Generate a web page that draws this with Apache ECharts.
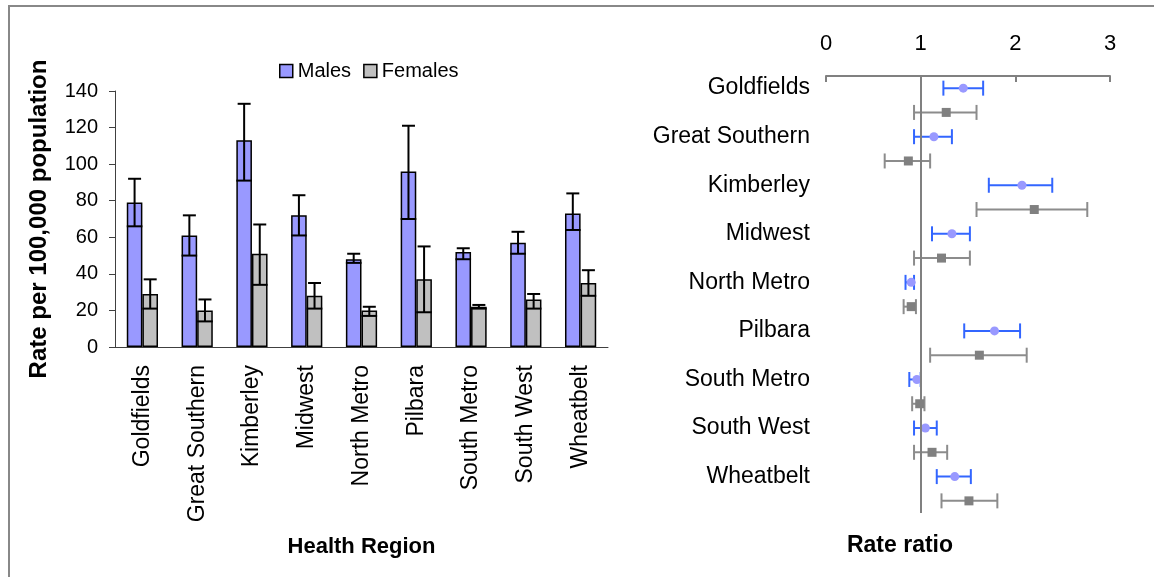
<!DOCTYPE html>
<html>
<head>
<meta charset="utf-8">
<script src="https://cdn.jsdelivr.net/npm/echarts@6/dist/echarts.min.js"></script>
<style>
  html, body { margin: 0; padding: 0; background: #fff; }
  #chart { width: 1154px; height: 577px; }
</style>
</head>
<body>
<div id="chart"></div>
<script>
  // regions
  var regions = ['Goldfields', 'Great Southern', 'Kimberley', 'Midwest', 'North Metro',
    'Pilbara', 'South Metro', 'South West', 'Wheatbelt'];

  // rate per 100,000 (left chart)
  var maleRate = [79, 61, 113, 72, 48, 96, 52, 57, 73];
  var maleLow = [66, 50, 91, 61, 46, 70, 48, 51, 64];
  var maleHigh = [92, 72, 133, 83, 51, 121, 54, 63, 84];
  var femaleRate = [29, 20, 51, 28, 20, 37, 22, 26, 35];
  var femaleLow = [21, 14, 34, 21, 17, 19, 21, 21, 28];
  var femaleHigh = [37, 26, 67, 35, 22, 55, 23, 29, 42];
  var rateTicks = [0, 140, 20]; // min, max, interval

  // rate ratio (right chart)
  var maleRatio = [1.45, 1.14, 2.07, 1.33, 0.90, 1.78, 0.96, 1.05, 1.36];
  var maleRatioLow = [1.24, 0.93, 1.72, 1.12, 0.84, 1.46, 0.88, 0.93, 1.17];
  var maleRatioHigh = [1.66, 1.33, 2.39, 1.52, 0.93, 2.05, 1.00, 1.17, 1.53];
  var femaleRatio = [1.27, 0.87, 2.20, 1.22, 0.90, 1.62, 0.99, 1.12, 1.51];
  var femaleRatioLow = [0.93, 0.62, 1.59, 0.93, 0.82, 1.10, 0.91, 0.93, 1.22];
  var femaleRatioHigh = [1.59, 1.10, 2.76, 1.52, 0.95, 2.12, 1.04, 1.28, 1.81];
  var ratioTicks = [0, 3, 1];
  var refRatio = 1;

  var FONT = "'Liberation Sans', Arial, sans-serif";

  // right chart has 2 rows per region (male row carries the label)
  var rowLabels = [];
  regions.forEach(function (r) { rowLabels.push(r); rowLabels.push(''); });

  // bar error bars: [catIndex, low, high, side]
  function barErr(low, high, side) {
    return low.map(function (v, i) { return [i, v, high[i], side]; });
  }
  function renderBarErr(params, api) {
    var band = api.size([1, 0])[0];
    var bw = band * 0.57 / 2;
    var side = api.value(3);
    var c = api.coord([api.value(0), 0]);
    var x = c[0] + side * bw / 2;
    var lo = api.coord([api.value(0), api.value(1)])[1];
    var hi = api.coord([api.value(0), api.value(2)])[1];
    var st = { stroke: '#000', lineWidth: 2 };
    return {
      type: 'group',
      children: [
        { type: 'line', shape: { x1: x, y1: lo, x2: x, y2: hi }, style: st },
        { type: 'line', shape: { x1: x - 6.5, y1: hi, x2: x + 6.5, y2: hi }, style: st },
        { type: 'line', shape: { x1: x - bw / 2, y1: lo, x2: x + bw / 2, y2: lo }, style: st }
      ]
    };
  }

  // ratio error bars: [low, high, row]
  function ratioErr(low, high, offset) {
    return low.map(function (v, i) { return [v, high[i], i * 2 + offset]; });
  }
  function makeRatioRender(color) {
    return function (params, api) {
      var a = api.coord([api.value(0), api.value(2)]);
      var b = api.coord([api.value(1), api.value(2)]);
      var st = { stroke: color, lineWidth: 2 };
      return {
        type: 'group',
        children: [
          { type: 'line', shape: { x1: a[0], y1: a[1], x2: b[0], y2: b[1] }, style: st },
          { type: 'line', shape: { x1: a[0], y1: a[1] - 7.5, x2: a[0], y2: a[1] + 7.5 }, style: st },
          { type: 'line', shape: { x1: b[0], y1: b[1] - 7.5, x2: b[0], y2: b[1] + 7.5 }, style: st }
        ]
      };
    };
  }

  var chart = echarts.init(document.getElementById('chart'));

  var option = {
    animation: false,
    textStyle: { fontFamily: FONT },
    legend: {
      data: ['Males', 'Females'],
      icon: 'rect',
      left: 274,
      top: 56,
      itemWidth: 13,
      itemHeight: 13,
      itemGap: 12,
      itemStyle: { borderColor: '#000', borderWidth: 1.5 },
      textStyle: { fontSize: 20, color: '#000', fontFamily: FONT }
    },
    graphic: [
      {
        type: 'rect',
        shape: { x: 9, y: 6, width: 1160, height: 600 },
        style: { fill: 'none', stroke: '#888', lineWidth: 2 },
        silent: true
      },
      {
        type: 'text',
        x: 900,
        y: 546,
        style: {
          text: 'Rate ratio', fill: '#000', font: 'bold 23px ' + FONT,
          textAlign: 'center', textVerticalAlign: 'middle'
        }
      }
    ],
    grid: [
      { left: 115, top: 91, width: 493, height: 256 },
      { left: 826, top: 76, width: 284, height: 437 }
    ],
    xAxis: [
      {
        type: 'category',
        gridIndex: 0,
        data: regions,
        name: 'Health Region',
        nameLocation: 'middle',
        nameGap: 189,
        nameTextStyle: { fontSize: 22, fontWeight: 'bold', color: '#000' },
        axisLine: { lineStyle: { color: '#404040', width: 1 } },
        axisTick: { length: 6, lineStyle: { color: '#404040' } },
        axisLabel: { rotate: 90, margin: 18, fontSize: 23, color: '#000', interval: 0 }
      },
      {
        type: 'value',
        gridIndex: 1,
        position: 'top',
        min: ratioTicks[0],
        max: ratioTicks[1],
        interval: ratioTicks[2],
        axisLine: { show: true, lineStyle: { color: '#808080', width: 2 } },
        axisTick: { show: true, inside: true, length: 6, lineStyle: { color: '#808080', width: 2 } },
        axisLabel: { margin: 21, fontSize: 22, color: '#000' },
        splitLine: { show: false }
      }
    ],
    yAxis: [
      {
        type: 'value',
        gridIndex: 0,
        min: rateTicks[0],
        max: rateTicks[1],
        interval: rateTicks[2],
        name: 'Rate per 100,000 population',
        nameLocation: 'middle',
        nameGap: 64,
        nameRotate: 90,
        nameTextStyle: { fontSize: 24, fontWeight: 'bold', color: '#000' },
        axisLine: { show: true, lineStyle: { color: '#404040', width: 1 } },
        axisTick: { show: true, length: 6, lineStyle: { color: '#404040' } },
        axisLabel: { margin: 17, fontSize: 20, color: '#000' },
        splitLine: { show: false }
      },
      {
        type: 'category',
        gridIndex: 1,
        inverse: true,
        data: rowLabels,
        axisLine: { show: false },
        axisTick: { show: false },
        axisLabel: { margin: 16, fontSize: 23, color: '#000', interval: 0 }
      }
    ],
    series: [
      {
        name: 'Males',
        type: 'bar',
        xAxisIndex: 0,
        yAxisIndex: 0,
        data: maleRate,
        barGap: '0%',
        barCategoryGap: '43%',
        itemStyle: { color: '#9999ff', borderColor: '#000', borderWidth: 1.5 }
      },
      {
        name: 'Females',
        type: 'bar',
        xAxisIndex: 0,
        yAxisIndex: 0,
        data: femaleRate,
        barGap: '0%',
        barCategoryGap: '43%',
        itemStyle: { color: '#c0c0c0', borderColor: '#000', borderWidth: 1.5 }
      },
      {
        type: 'custom',
        xAxisIndex: 0,
        yAxisIndex: 0,
        renderItem: renderBarErr,
        data: barErr(maleLow, maleHigh, -1),
        z: 5
      },
      {
        type: 'custom',
        xAxisIndex: 0,
        yAxisIndex: 0,
        renderItem: renderBarErr,
        data: barErr(femaleLow, femaleHigh, 1),
        z: 5
      },
      {
        type: 'custom',
        xAxisIndex: 1,
        yAxisIndex: 1,
        renderItem: makeRatioRender('#3366ff'),
        data: ratioErr(maleRatioLow, maleRatioHigh, 0),
        z: 3
      },
      {
        type: 'custom',
        xAxisIndex: 1,
        yAxisIndex: 1,
        renderItem: makeRatioRender('#8c8c8c'),
        data: ratioErr(femaleRatioLow, femaleRatioHigh, 1),
        z: 3
      },
      {
        name: 'Male ratio',
        type: 'scatter',
        xAxisIndex: 1,
        yAxisIndex: 1,
        symbol: 'circle',
        symbolSize: 9,
        itemStyle: { color: '#9999ff', opacity: 1 },
        data: maleRatio.map(function (v, i) { return [v, i * 2]; }),
        markLine: {
          silent: true,
          symbol: 'none',
          label: { show: false },
          lineStyle: { color: '#808080', width: 2, type: 'solid' },
          data: [{ xAxis: refRatio }]
        },
        z: 4
      },
      {
        name: 'Female ratio',
        type: 'scatter',
        xAxisIndex: 1,
        yAxisIndex: 1,
        symbol: 'rect',
        symbolSize: 9,
        itemStyle: { color: '#808080', opacity: 1 },
        data: femaleRatio.map(function (v, i) { return [v, i * 2 + 1]; }),
        z: 4
      }
    ]
  };

  chart.setOption(option);
</script>
</body>
</html>
